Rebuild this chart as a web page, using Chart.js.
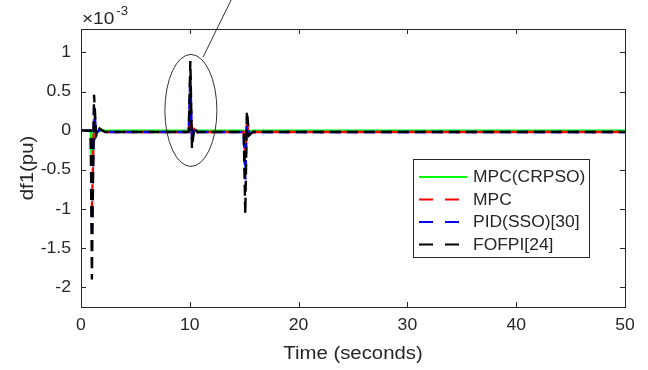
<!DOCTYPE html>
<html>
<head>
<meta charset="utf-8">
<script src="https://cdn.jsdelivr.net/npm/chart.js@4.4.1/dist/chart.umd.min.js"></script>
<style>
  html, body { margin: 0; padding: 0; background: #fff; }
  #wrap { width: 648px; height: 370px; }
</style>
</head>
<body>
<div id="wrap"><canvas id="myChart" width="648" height="370"></canvas></div>
<script>
// time axis (seconds) and the four responses, values in units of 1e-3 pu
var timeSec = [0, 0.9, 1.0, 1.2, 1.4, 1.7, 2.2, 9.9, 10.05, 10.2, 10.4, 10.7, 14.95, 15.1, 15.25, 15.45, 15.8, 50];
var mpcCrpso = [0, 0, -0.42, 0.05, -0.02, 0.0, 0, 0, 0.10, -0.03, 0, 0, 0, -0.10, 0.03, -0.01, 0, 0];
var mpc      = [0, 0, -1.0, 0.15, -0.03, 0.01, -0.015, -0.015, 0.38, -0.08, 0.02, -0.015, -0.015, -0.30, 0.08, -0.03, -0.015, -0.015];
var pidSso   = [0, 0, -1.25, 0.30, -0.04, 0.02, -0.015, -0.015, 0.70, -0.15, 0.03, -0.015, -0.015, -0.62, 0.18, -0.04, -0.015, -0.015];
var fofpi    = [0, 0, -1.9, 0.46, -0.06, 0.03, -0.015, -0.015, 0.89, -0.22, 0.04, -0.015, -0.015, -1.06, 0.25, -0.06, -0.015, -0.015];

var seriesNames = ['MPC(CRPSO)', 'MPC', 'PID(SSO)[30]', 'FOFPI[24]'];
var seriesColors = ['#00ff00', '#ff0000', '#0000ff', '#000000'];
var seriesDash = [[], [11, 6], [11, 6], [11, 6]];
var xTicks = [0, 10, 20, 30, 40, 50];
var yTicks = [-2, -1.5, -1, -0.5, 0, 0.5, 1];
var xTitle = 'Time (seconds)';
var yTitle = 'df1(pu)';

var allSeries = [mpcCrpso, mpc, pidSso, fofpi];
var font = '"Liberation Sans", Arial, Helvetica, sans-serif';
var ink = '#262626';

var datasets = allSeries.map(function(vals, i) {
  return {
    label: seriesNames[i],
    data: vals.map(function(v, k) { return { x: timeSec[k], y: v }; }),
    borderColor: seriesColors[i],
    borderDash: seriesDash[i],
    borderWidth: 2.4,
    pointRadius: 0,
    tension: 0,
    fill: false,
    order: 4 - i
  };
});

// text a bit wider than Arial, like the matlab export
function txt(ctx, s, x, y, size, align, stretch) {
  ctx.save();
  ctx.font = size + 'px ' + font;
  ctx.textBaseline = 'middle';
  ctx.textAlign = align;
  ctx.translate(x, y);
  ctx.scale(stretch, 1);
  ctx.fillText(s, 0, 0);
  ctx.restore();
}

// frame, inward ticks, labels, exponent, legend and the ellipse note
var matlabBits = {
  id: 'matlabBits',
  afterDraw: function(chart) {
    var ctx = chart.ctx;
    var a = chart.chartArea;
    var xs = chart.scales.x, ys = chart.scales.y;
    ctx.save();
    ctx.strokeStyle = ink;
    ctx.lineWidth = 1;
    ctx.strokeRect(Math.round(a.left) + 0.5, Math.round(a.top) + 0.5, Math.round(a.right - a.left), Math.round(a.bottom - a.top));
    ctx.beginPath();
    xTicks.forEach(function(t) {
      var px = Math.round(xs.getPixelForValue(t)) + 0.5;
      ctx.moveTo(px, a.bottom); ctx.lineTo(px, a.bottom - 5);
      ctx.moveTo(px, a.top); ctx.lineTo(px, a.top + 5);
    });
    yTicks.forEach(function(t) {
      var py = Math.round(ys.getPixelForValue(t)) + 0.5;
      ctx.moveTo(a.left, py); ctx.lineTo(a.left + 5, py);
      ctx.moveTo(a.right, py); ctx.lineTo(a.right - 5, py);
    });
    ctx.stroke();

    ctx.fillStyle = ink;
    xTicks.forEach(function(t) {
      txt(ctx, String(t), xs.getPixelForValue(t), a.bottom + 19, 16, 'center', 1.1);
    });
    yTicks.forEach(function(t) {
      txt(ctx, String(t), a.left - 10, ys.getPixelForValue(t), 16, 'right', 1.1);
    });
    txt(ctx, xTitle, (a.left + a.right) / 2, a.bottom + 47, 18, 'center', 1.13);
    ctx.save();
    ctx.translate(28, (a.top + a.bottom) / 2);
    ctx.rotate(-Math.PI / 2);
    txt(ctx, yTitle, 0, 0, 18, 'center', 1.13);
    ctx.restore();

    // x10^-3
    txt(ctx, '\u00d710', a.left + 1, 19, 17, 'left', 1.12);
    ctx.font = '17px ' + font;
    var w = ctx.measureText('\u00d710').width * 1.12;
    txt(ctx, '-3', a.left + 3 + w, 12, 12, 'left', 1.1);

    // ellipse around the 10 s spike
    var cx = xs.getPixelForValue(10.1), cy = ys.getPixelForValue(0.26);
    ctx.strokeStyle = '#333';
    ctx.beginPath();
    ctx.ellipse(cx, cy, 26, 56, 0, 0, Math.PI * 2);
    ctx.stroke();
    ctx.beginPath();
    ctx.moveTo(cx + 12, cy - 53);
    ctx.lineTo(cx + 41, cy - 112);
    ctx.stroke();

    // legend
    var lx = 413, ly = 159, lw = 176, lh = 98;
    ctx.fillStyle = '#fff';
    ctx.fillRect(lx, ly, lw, lh);
    ctx.strokeStyle = ink;
    ctx.strokeRect(lx + 0.5, ly + 0.5, lw, lh);
    seriesNames.forEach(function(name, i) {
      var yy = ly + 18 + i * 22.5;
      ctx.strokeStyle = seriesColors[i];
      ctx.lineWidth = 2;
      ctx.setLineDash(i === 0 ? [] : [14, 12]);
      ctx.beginPath();
      ctx.moveTo(lx + 6, yy); ctx.lineTo(lx + 54, yy);
      ctx.stroke();
      ctx.setLineDash([]);
      ctx.fillStyle = ink;
      txt(ctx, name, lx + 60, yy + 1, 16, 'left', 1.09);
    });
    ctx.restore();
  }
};

var ctx = document.getElementById('myChart').getContext('2d');
var myChart = new Chart(ctx, {
  type: 'line',
  data: { datasets: datasets },
  options: {
    responsive: false,
    animation: false,
    events: [],
    layout: { padding: { left: 81, top: 29, right: 23, bottom: 63 } },
    plugins: { legend: { display: false }, tooltip: { enabled: false } },
    scales: {
      x: { type: 'linear', min: 0, max: 50, display: false },
      y: { type: 'linear', min: -2.25, max: 1.3, display: false }
    }
  },
  plugins: [matlabBits]
});
</script>
</body>
</html>
